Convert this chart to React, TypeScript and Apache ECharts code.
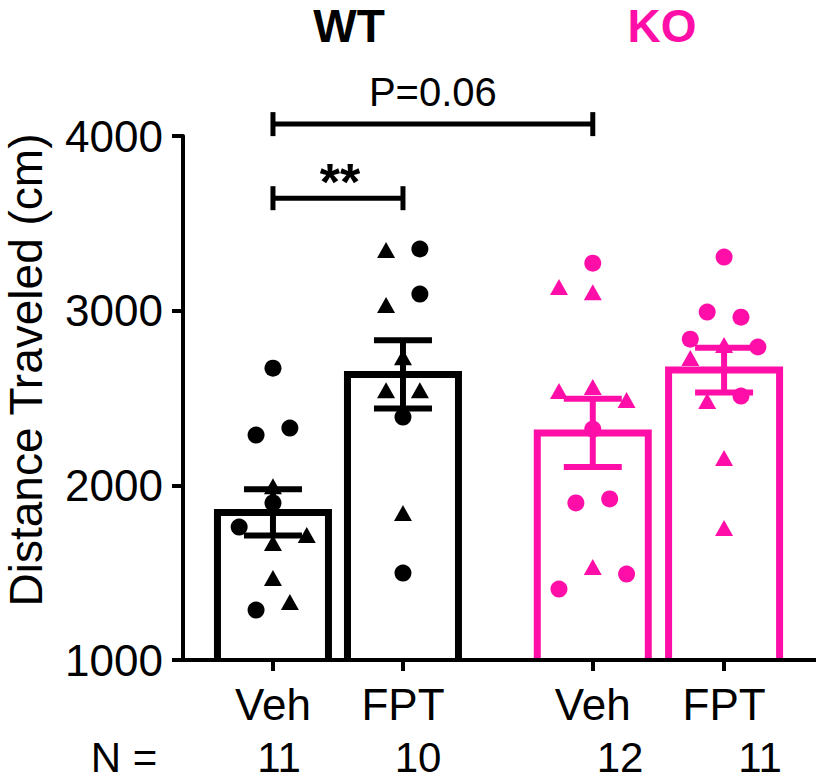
import { useEffect, useRef } from 'react';
import * as echarts from 'echarts';

const BLACK = '#000000';
const PINK = '#ff0fa8';
const FONT = '"Liberation Sans", Arial, Helvetica, sans-serif';

const groupNames = ['WT', 'KO'];
const groupColors = [BLACK, PINK];
const categories = ['Veh', 'FPT', 'Veh', 'FPT'];
const categoryGroup = [0, 0, 1, 1];
const categoryX = [1, 2, 3.46, 4.47];
const barMeans = [1845, 2635, 2300, 2660];
const barSEM = [132, 195, 195, 128];
const nCounts = [11, 10, 12, 11];

const yTicks = [1000, 2000, 3000, 4000];

// individual animals (values) and their horizontal jitter (in jitter steps)
const wtVehCircles = [2671, 2288, 2328, 1899, 1761, 1286];
const wtVehCircleJitter = [0, -1, 1, 0, -2, -1];
const wtVehTriangles = [1995, 1716, 1670, 1469, 1332];
const wtVehTriangleJitter = [0, 2, 0, 0, 1];

const wtFptCircles = [3353, 3095, 2391, 1498];
const wtFptCircleJitter = [1, 1, 0, 0];
const wtFptTriangles = [3347, 3032, 2734, 2545, 2545, 1841];
const wtFptTriangleJitter = [-1, -1, 0, -1, 1, 0];

const koVehCircles = [3272, 2322, 1899, 1922, 1492, 1406];
const koVehCircleJitter = [0, 0, -1, 1, 2, -2];
const koVehTriangles = [3135, 3106, 2540, 2563, 2488, 1532];
const koVehTriangleJitter = [-2, 0, -2, 0, 2, 0];

const koFptCircles = [3307, 2992, 2963, 2837, 2792, 2511];
const koFptCircleJitter = [0, -1, 1, -2, 2, 1];
const koFptTriangles = [2803, 2729, 2483, 2156, 1756];
const koFptTriangleJitter = [0, -2, -1, 0, 0];

// significance brackets
const sigFrom = [0, 0];
const sigTo = [1, 2];
const sigLevel = [3644, 4068];
const sigLabels = ['**', 'P=0.06'];

const JITTER = 0.13;
const Y_MIN = 1000;
const Y_MAX = 4000;
const X_MIN = 0.308;
const X_MAX = 5.177;

function pts(vals: number[], jit: number[], cat: number) {
  return vals.map((v, i) => [categoryX[cat] + jit[i] * JITTER, v]);
}

export default function App() {
  const ref = useRef<HTMLDivElement>(null);

  useEffect(() => {
    if (!ref.current) return;
    const chart = echarts.init(ref.current, null, { renderer: 'svg' });

    const nearestCat = (v: number) => {
      let best = 0;
      for (let i = 1; i < categoryX.length; i++) {
        if (Math.abs(categoryX[i] - v) < Math.abs(categoryX[best] - v)) best = i;
      }
      return best;
    };

    const BAR_W = 111;
    const CAP = 29;

    const option: any = {
      animation: false,
      backgroundColor: '#ffffff',
      grid: { left: 183, right: 0, top: 136, bottom: 121, containLabel: false },
      xAxis: {
        type: 'value',
        min: X_MIN,
        max: X_MAX,
        z: 6,
        axisLine: { show: true, lineStyle: { color: BLACK, width: 4 } },
        axisTick: {
          show: true,
          customValues: categoryX,
          length: 11,
          lineStyle: { color: BLACK, width: 4 },
        },
        axisLabel: {
          show: true,
          customValues: categoryX,
          formatter: (v: number) => categories[nearestCat(v)],
          color: BLACK,
          fontFamily: FONT,
          fontSize: 44,
          margin: 22,
        },
        splitLine: { show: false },
      },
      yAxis: {
        type: 'value',
        min: Y_MIN,
        max: Y_MAX,
        interval: 1000,
        z: 6,
        axisLine: { show: true, lineStyle: { color: BLACK, width: 4 } },
        axisTick: { show: true, length: 11, lineStyle: { color: BLACK, width: 4 } },
        axisLabel: {
          color: BLACK,
          fontFamily: FONT,
          fontSize: 44,
          margin: 20,
          formatter: (v: number) => (yTicks.includes(v) ? String(v) : ''),
        },
        splitLine: { show: false },
      },
      series: [
        {
          type: 'custom',
          name: 'bars',
          z: 2,
          data: categoryX.map((x, i) => [x, barMeans[i], categoryGroup[i]]),
          encode: { x: 0, y: 1 },
          renderItem: (params: any, api: any) => {
            const x = api.value(0);
            const m = api.value(1);
            const g = api.value(2);
            const top = api.coord([x, m]);
            const base = api.coord([x, Y_MIN]);
            const h = BAR_W / 2;
            return {
              type: 'polyline',
              shape: {
                points: [
                  [top[0] - h, base[1]],
                  [top[0] - h, top[1]],
                  [top[0] + h, top[1]],
                  [top[0] + h, base[1]],
                ],
              },
              style: { fill: 'none', stroke: groupColors[g], lineWidth: 7, lineJoin: 'miter' },
            };
          },
        },
        {
          type: 'custom',
          name: 'sem',
          z: 3,
          data: categoryX.map((x, i) => [x, barMeans[i], barSEM[i], categoryGroup[i]]),
          encode: { x: 0, y: 1 },
          renderItem: (params: any, api: any) => {
            const x = api.value(0);
            const m = api.value(1);
            const s = api.value(2);
            const g = api.value(3);
            const hi = api.coord([x, m + s]);
            const lo = api.coord([x, m - s]);
            const st = { stroke: groupColors[g], lineWidth: 6 };
            return {
              type: 'group',
              children: [
                { type: 'line', shape: { x1: hi[0], y1: hi[1], x2: lo[0], y2: lo[1] }, style: st },
                { type: 'line', shape: { x1: hi[0] - CAP, y1: hi[1], x2: hi[0] + CAP, y2: hi[1] }, style: st },
                { type: 'line', shape: { x1: lo[0] - CAP, y1: lo[1], x2: lo[0] + CAP, y2: lo[1] }, style: st },
              ],
            };
          },
        },
        {
          type: 'scatter',
          name: 'WT circles',
          z: 4,
          symbol: 'circle',
          symbolSize: 17,
          itemStyle: { color: BLACK, opacity: 1 },
          data: [...pts(wtVehCircles, wtVehCircleJitter, 0), ...pts(wtFptCircles, wtFptCircleJitter, 1)],
        },
        {
          type: 'scatter',
          name: 'WT triangles',
          z: 4,
          symbol: 'triangle',
          symbolSize: [18, 16],
          itemStyle: { color: BLACK, opacity: 1 },
          data: [...pts(wtVehTriangles, wtVehTriangleJitter, 0), ...pts(wtFptTriangles, wtFptTriangleJitter, 1)],
        },
        {
          type: 'scatter',
          name: 'KO circles',
          z: 4,
          symbol: 'circle',
          symbolSize: 17,
          itemStyle: { color: PINK, opacity: 1 },
          data: [...pts(koVehCircles, koVehCircleJitter, 2), ...pts(koFptCircles, koFptCircleJitter, 3)],
        },
        {
          type: 'scatter',
          name: 'KO triangles',
          z: 4,
          symbol: 'triangle',
          symbolSize: [18, 16],
          itemStyle: { color: PINK, opacity: 1 },
          data: [...pts(koVehTriangles, koVehTriangleJitter, 2), ...pts(koFptTriangles, koFptTriangleJitter, 3)],
        },
        {
          type: 'custom',
          name: 'significance',
          z: 5,
          clip: false,
          data: sigFrom.map((f, i) => [categoryX[f], categoryX[sigTo[i]], sigLevel[i], i]),
          encode: { x: [0, 1], y: 2 },
          renderItem: (params: any, api: any) => {
            const a = api.coord([api.value(0), api.value(2)]);
            const b = api.coord([api.value(1), api.value(2)]);
            const idx = api.value(3);
            const st = { stroke: BLACK, lineWidth: 5 };
            const label = sigLabels[idx];
            const isStar = label.indexOf('*') >= 0;
            return {
              type: 'group',
              children: [
                { type: 'line', shape: { x1: a[0], y1: a[1], x2: b[0], y2: b[1] }, style: st },
                { type: 'line', shape: { x1: a[0], y1: a[1] - 12, x2: a[0], y2: a[1] + 12 }, style: st },
                { type: 'line', shape: { x1: b[0], y1: b[1] - 12, x2: b[0], y2: b[1] + 12 }, style: st },
                {
                  type: 'text',
                  x: (a[0] + b[0]) / 2 + (isStar ? 2 : 0),
                  y: a[1] + (isStar ? -16 : -32),
                  style: {
                    text: label,
                    fill: BLACK,
                    font: `${isStar ? 'bold ' : ''}${isStar ? 52 : 40}px ${FONT}`,
                    align: 'center',
                    verticalAlign: 'middle',
                  },
                },
              ],
            };
          },
        },
      ],
      graphic: [
        {
          type: 'text',
          x: 349,
          y: 26,
          style: { text: groupNames[0], fill: groupColors[0], font: `bold 46px ${FONT}`, align: 'center', verticalAlign: 'middle' },
        },
        {
          type: 'text',
          x: 662,
          y: 26,
          style: { text: groupNames[1], fill: groupColors[1], font: `bold 46px ${FONT}`, align: 'center', verticalAlign: 'middle' },
        },
        {
          type: 'text',
          x: 26,
          y: 370,
          rotation: Math.PI / 2,
          style: { text: 'Distance Traveled (cm)', fill: BLACK, font: `46px ${FONT}`, align: 'center', verticalAlign: 'middle' },
        },
        {
          type: 'text',
          x: 124,
          y: 757,
          style: { text: 'N =', fill: BLACK, font: `42px ${FONT}`, align: 'center', verticalAlign: 'middle' },
        },
        ...nCounts.map((n, i) => ({
          type: 'text',
          x: [279, 418, 620, 760][i],
          y: 757,
          style: { text: String(n), fill: BLACK, font: `42px ${FONT}`, align: 'center', verticalAlign: 'middle' },
        })),
      ],
    };

    chart.setOption(option);
    return () => chart.dispose();
  }, []);

  return (
    <div
      ref={ref}
      style={{ position: 'absolute', left: 0, top: 0, width: 816, height: 781, background: '#fff' }}
    />
  );
}
